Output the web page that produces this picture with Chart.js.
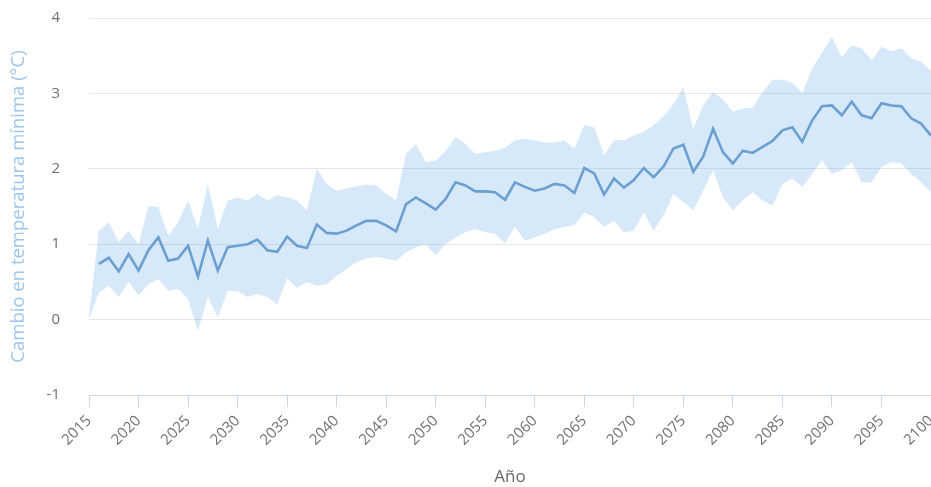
<!DOCTYPE html>
<html>
<head>
<meta charset="utf-8">
<script src="https://cdn.jsdelivr.net/npm/chart.js@4"></script>
<style>
html,body{margin:0;padding:0;background:#fff;overflow:hidden;}
#wrap{position:relative;width:931px;height:487px;}
</style>
</head>
<body>
<div id="wrap"><canvas id="c"></canvas></div>
<script>
const years = [];
for (let y = 2015; y <= 2100; y++) years.push(y);

const meanChange = [null,
0.74,0.82,0.64,0.87,0.65,0.92,1.09,0.78,0.81,0.98,
0.57,1.05,0.65,0.96,0.98,1.00,1.06,0.92,0.90,1.10,
0.98,0.95,1.26,1.15,1.14,1.18,1.25,1.31,1.31,1.25,
1.17,1.53,1.62,1.54,1.46,1.60,1.82,1.78,1.70,1.70,
1.69,1.59,1.82,1.76,1.71,1.74,1.80,1.78,1.68,2.01,
1.94,1.66,1.87,1.75,1.85,2.01,1.89,2.03,2.27,2.32,
1.96,2.16,2.53,2.22,2.07,2.24,2.21,2.29,2.37,2.51,
2.55,2.36,2.64,2.83,2.84,2.71,2.89,2.71,2.67,2.87,
2.84,2.83,2.67,2.60,2.44];

const upperChange = [0.05,
1.18,1.29,1.03,1.18,1.00,1.51,1.49,1.12,1.29,1.58,
1.21,1.80,1.21,1.58,1.62,1.58,1.67,1.58,1.65,1.62,
1.58,1.45,2.00,1.80,1.71,1.74,1.77,1.79,1.78,1.67,
1.58,2.20,2.33,2.09,2.11,2.24,2.42,2.33,2.20,2.22,
2.24,2.28,2.38,2.40,2.38,2.35,2.35,2.38,2.27,2.58,
2.55,2.18,2.38,2.38,2.44,2.49,2.58,2.70,2.86,3.08,
2.53,2.84,3.02,2.92,2.76,2.80,2.81,3.02,3.18,3.18,
3.14,3.01,3.33,3.54,3.75,3.48,3.64,3.60,3.44,3.62,
3.56,3.60,3.47,3.42,3.30];

const lowerChange = [0.00,
0.36,0.45,0.30,0.50,0.32,0.47,0.54,0.38,0.41,0.27,
-0.15,0.30,0.03,0.38,0.38,0.30,0.34,0.30,0.20,0.55,
0.42,0.50,0.45,0.47,0.58,0.67,0.76,0.81,0.83,0.81,
0.78,0.89,0.96,1.00,0.85,1.00,1.09,1.16,1.20,1.16,
1.14,1.01,1.23,1.05,1.09,1.14,1.20,1.23,1.25,1.42,
1.36,1.23,1.31,1.16,1.18,1.42,1.18,1.38,1.67,1.56,
1.45,1.71,1.98,1.62,1.45,1.58,1.69,1.58,1.51,1.80,
1.87,1.76,1.93,2.11,1.93,1.98,2.09,1.82,1.82,2.02,
2.09,2.07,1.93,1.82,1.69];

const yTicks = [-1,0,1,2,3,4];
const xTickStep = 5;

const toPts = arr => years.map((yr, i) => ({x: yr, y: arr[i]}));

new Chart(document.getElementById('c'), {
  type: 'line',
  data: {
    datasets: [
      {
        label: 'Media',
        data: toPts(meanChange),
        borderColor: '#6a9fd2',
        borderWidth: 2.6,
        pointRadius: 0,
        tension: 0,
        fill: false,
        spanGaps: false,
        order: 0
      },
      {
        label: 'Máximo',
        data: toPts(upperChange),
        borderWidth: 0,
        borderColor: 'rgba(0,0,0,0)',
        backgroundColor: 'rgba(124,181,236,0.3)',
        pointRadius: 0,
        tension: 0,
        fill: '+1',
        order: 1
      },
      {
        label: 'Mínimo',
        data: toPts(lowerChange),
        borderWidth: 0,
        borderColor: 'rgba(0,0,0,0)',
        pointRadius: 0,
        tension: 0,
        fill: false,
        order: 2
      }
    ]
  },
  options: {
    responsive: true,
    maintainAspectRatio: false,
    animation: false,
    layout: {padding: {left: 8, right: 0, top: 18, bottom: 0}},
    plugins: {legend: {display: false}, tooltip: {enabled: false}},
    scales: {
      x: {
        type: 'linear',
        min: 2015,
        max: 2100,
        afterBuildTicks: s => { s.ticks = []; for (let v = 2015; v <= 2100; v += xTickStep) s.ticks.push({value: v}); },
        afterFit: s => { s.paddingRight = 0; s.paddingLeft = 0; s.height = 92; },
        ticks: {
          autoSkip: false,
          maxRotation: 45,
          minRotation: 45,
          padding: 5,
          color: '#707070',
          font: {family: 'Open Sans', size: 15},
          callback: v => String(v)
        },
        grid: {display: true, drawOnChartArea: false, drawTicks: true, tickLength: 12, color: '#ccd6eb'},
        border: {display: true, color: '#ccd6eb', width: 1},
        title: {display: true, text: 'Año', color: '#666666', font: {family: 'Open Sans', size: 17}, padding: {top: 4, bottom: 0}}
      },
      y: {
        min: -1,
        max: 4,
        afterBuildTicks: s => { s.ticks = yTicks.map(v => ({value: v})); },
        afterFit: s => { s.width = 81; s.paddingTop = 0; s.paddingBottom = 0; },
        ticks: {color: '#707070', font: {family: 'Open Sans', size: 15}, padding: 29},
        grid: {color: '#e6e6e6', drawTicks: false},
        border: {display: false},
        title: {display: true, text: 'Cambio en temperatura mínima (°C)', color: '#9cc6ec', font: {family: 'Open Sans', size: 18.5}, padding: {top: 0, bottom: 0}}
      }
    }
  }
});
</script>
</body>
</html>
